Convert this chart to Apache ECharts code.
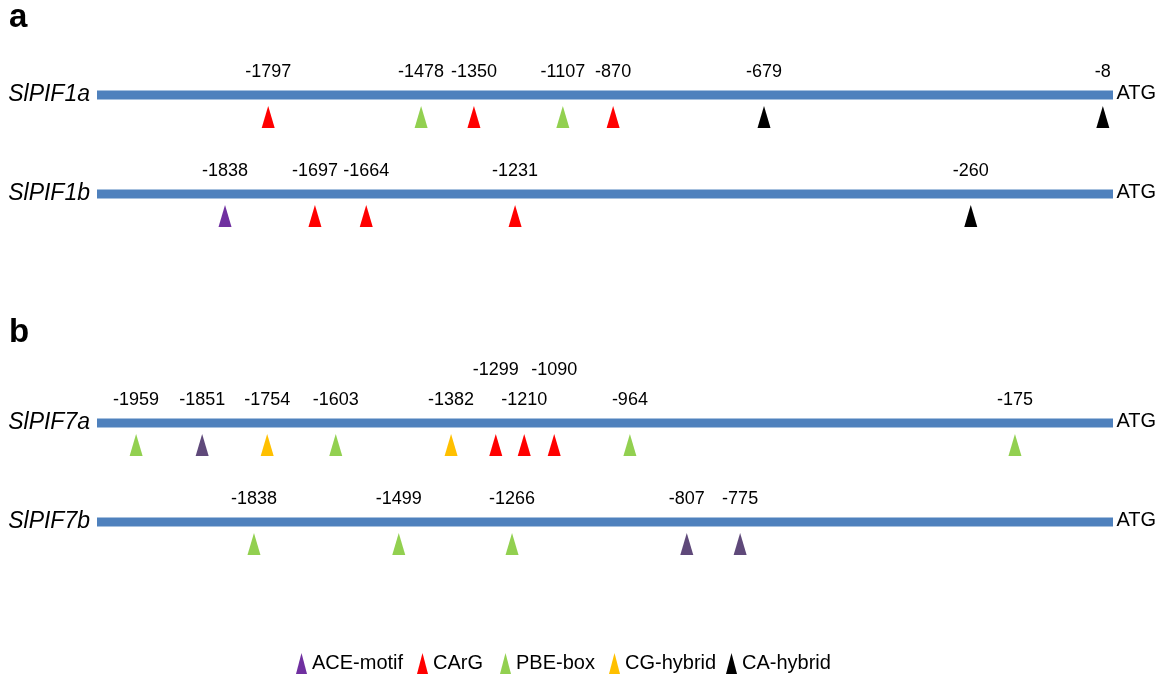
<!DOCTYPE html>
<html><head><meta charset="utf-8">
<script src="https://cdn.jsdelivr.net/npm/echarts@6/dist/echarts.min.js"></script>
<style>html,body{margin:0;padding:0;background:#fff}#c{width:1165px;height:680px}</style>
</head><body><div id="c"></div>
<script>
// ---------------- data ----------------
const genes = ['SlPIF1a', 'SlPIF1b', 'SlPIF7a', 'SlPIF7b'];
const elementTypes = ['ACE-motif', 'CArG', 'PBE-box', 'CG-hybrid', 'CA-hybrid'];

// annotated site (label), element type, and where the mark sits along the drawn 2 kb promoter (bp)
const pif1aSites = [-1797, -1478, -1350, -1107, -870, -679, -8];
const pif1aTypes = ['CArG', 'PBE-box', 'CArG', 'PBE-box', 'CArG', 'CA-hybrid', 'CA-hybrid'];
const pif1aDrawn = [-1663, -1362, -1258, -1083, -984, -687, -20];

const pif1bSites = [-1838, -1697, -1664, -1231, -260];
const pif1bTypes = ['ACE-motif', 'CArG', 'CArG', 'CArG', 'CA-hybrid'];
const pif1bDrawn = [-1748, -1571, -1470, -1177, -280];

const pif7aSites = [-1959, -1851, -1754, -1603, -1382, -1299, -1210, -1090, -964, -175];
const pif7aTypes = ['PBE-box', 'ACE-motif', 'CG-hybrid', 'PBE-box', 'CG-hybrid', 'CArG', 'CArG', 'CArG', 'PBE-box', 'PBE-box'];
const pif7aDrawn = [-1923, -1793, -1665, -1530, -1303, -1215, -1159, -1100, -951, -193];

const pif7bSites = [-1838, -1499, -1266, -807, -775];
const pif7bTypes = ['PBE-box', 'PBE-box', 'PBE-box', 'ACE-motif', 'ACE-motif'];
const pif7bDrawn = [-1691, -1406, -1183, -839, -734];

const promoterStart = -2000;
const promoterEnd = 0;
const startCodon = 'ATG';

// ---------------- style / layout ----------------
const FONT = 'Liberation Sans, Arial, sans-serif';
const typeColors = { 'ACE-motif': '#7030A0', 'CArG': '#FF0000', 'PBE-box': '#92D050', 'CG-hybrid': '#FFC000', 'CA-hybrid': '#000000' };
const darkAceGenes = ['SlPIF7a', 'SlPIF7b'];
const darkAce = '#5F497A';
const raisedLabels = { 'SlPIF7a': [-1299, -1090] };
const lineY = [95, 194, 423, 522];
const legendLefts = [296, 417, 500, 609, 726];

const geneData = [
  [pif1aSites, pif1aTypes, pif1aDrawn],
  [pif1bSites, pif1bTypes, pif1bDrawn],
  [pif7aSites, pif7aTypes, pif7aDrawn],
  [pif7bSites, pif7bTypes, pif7bDrawn]
];

const grids = [], xAxes = [], yAxes = [], series = [];
genes.forEach((gene, gi) => {
  grids.push({ left: 97, right: 52, top: lineY[gi] - 40, height: 80 });
  xAxes.push({ type: 'value', gridIndex: gi, min: promoterStart, max: promoterEnd, show: false });
  yAxes.push({
    type: 'category', gridIndex: gi, data: [gene],
    axisLine: { show: false }, axisTick: { show: false }, splitLine: { show: false },
    axisLabel: { margin: 7, fontSize: 23, fontStyle: 'italic', color: '#000', fontFamily: FONT }
  });
  series.push({
    name: gene + ' promoter', type: 'line', xAxisIndex: gi, yAxisIndex: gi,
    data: [[promoterStart, gene], [promoterEnd, gene]],
    symbol: 'none', silent: true, z: 1,
    lineStyle: { width: 9, color: '#4F81BD', cap: 'butt' }
  });
  series.push({
    name: gene + ' start', type: 'scatter', xAxisIndex: gi, yAxisIndex: gi,
    data: [[promoterEnd, gene]], silent: true, z: 2,
    symbol: 'rect', symbolSize: 1, itemStyle: { color: 'rgba(255,255,255,0)', opacity: 1 },
    label: {
      show: true, position: 'right', distance: 3, formatter: startCodon,
      fontSize: 20, color: '#000', opacity: 1, fontFamily: FONT, offset: [0, -2]
    }
  });
  const [sites, types, drawn] = geneData[gi];
  const raised = raisedLabels[gene] || [];
  elementTypes.forEach(t => {
    const items = [];
    sites.forEach((s, i) => {
      if (types[i] !== t) return;
      items.push({
        value: [drawn[i], gene], site: s,
        label: { offset: [0, raised.includes(s) ? -75 : -45] }
      });
    });
    if (!items.length) return;
    const color = (t === 'ACE-motif' && darkAceGenes.includes(gene)) ? darkAce : typeColors[t];
    series.push({
      name: t, type: 'scatter', xAxisIndex: gi, yAxisIndex: gi, z: 3,
      symbol: 'triangle', symbolSize: [13, 22], symbolOffset: [0, 22],
      itemStyle: { color: color, opacity: 1 },
      label: {
        show: true, position: 'inside', color: '#000', fontSize: 18, fontFamily: FONT,
        textBorderWidth: 0, formatter: p => String(p.data.site)
      },
      data: items
    });
  });
});

const legends = elementTypes.map((t, i) => ({
  data: [t], left: legendLefts[i], top: 653, padding: 0, itemGap: 0,
  itemWidth: 11, itemHeight: 21, icon: 'triangle',
  textStyle: { fontSize: 20, color: '#000', fontFamily: FONT, padding: [8, 0, 0, 0] }
}));

const chart = echarts.init(document.getElementById('c'), null, { renderer: 'canvas' });
chart.setOption({
  backgroundColor: '#fff',
  animation: false,
  title: [
    { text: 'a', left: 9, top: 1, padding: 0, textStyle: { fontSize: 33, fontWeight: 'bold', color: '#000', fontFamily: FONT } },
    { text: 'b', left: 9, top: 316, padding: 0, textStyle: { fontSize: 33, fontWeight: 'bold', color: '#000', fontFamily: FONT } }
  ],
  legend: legends,
  grid: grids,
  xAxis: xAxes,
  yAxis: yAxes,
  series: series
});
</script>
</body></html>
